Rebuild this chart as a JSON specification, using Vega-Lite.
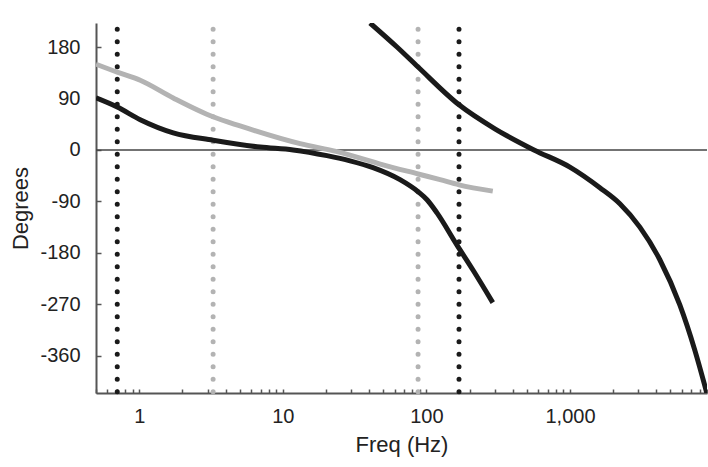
{
  "$schema": "https://vega.github.io/schema/vega-lite/v6.json",
  "autosize": {"type": "none"},
  "width": 611,
  "height": 370,
  "padding": {"left": 96, "top": 23, "right": 1, "bottom": 74},
  "background": "white",
  "config": {
    "view": {"stroke": null},
    "font": "Liberation Sans",
    "axis": {"grid": false, "labelFont": "Liberation Sans", "titleFont": "Liberation Sans", "labelFontSize": 20, "titleFontSize": 22, "labelColor": "#222", "titleColor": "#222", "titleFontWeight": "normal", "domainColor": "#555", "domainWidth": 2, "tickColor": "#555", "tickWidth": 1.5}
  },
  "datasets": {
    "curves": [
      {"series": "gray", "freq": 0.5, "deg": 150},
      {"series": "gray", "freq": 0.703, "deg": 136},
      {"series": "gray", "freq": 1.016, "deg": 122},
      {"series": "gray", "freq": 1.725, "deg": 91},
      {"series": "gray", "freq": 3.27, "deg": 58},
      {"series": "gray", "freq": 5.04, "deg": 42},
      {"series": "gray", "freq": 13.2, "deg": 11},
      {"series": "gray", "freq": 23.9, "deg": -3},
      {"series": "gray", "freq": 49.9, "deg": -26},
      {"series": "gray", "freq": 87.5, "deg": -42},
      {"series": "gray", "freq": 124.5, "deg": -52},
      {"series": "gray", "freq": 168.7, "deg": -61},
      {"series": "gray", "freq": 290, "deg": -72},
      {"series": "black1", "freq": 0.5, "deg": 91},
      {"series": "black1", "freq": 0.703, "deg": 75},
      {"series": "black1", "freq": 1.016, "deg": 53},
      {"series": "black1", "freq": 1.725, "deg": 30},
      {"series": "black1", "freq": 3.27, "deg": 17},
      {"series": "black1", "freq": 6.95, "deg": 5},
      {"series": "black1", "freq": 11.8, "deg": 0},
      {"series": "black1", "freq": 20.3, "deg": -10},
      {"series": "black1", "freq": 29.4, "deg": -19},
      {"series": "black1", "freq": 42.5, "deg": -31},
      {"series": "black1", "freq": 65.5, "deg": -52},
      {"series": "black1", "freq": 87.5, "deg": -73},
      {"series": "black1", "freq": 101, "deg": -87},
      {"series": "black1", "freq": 118.5, "deg": -110},
      {"series": "black1", "freq": 163, "deg": -166},
      {"series": "black1", "freq": 211, "deg": -210},
      {"series": "black1", "freq": 290, "deg": -267},
      {"series": "black2", "freq": 40.5, "deg": 222},
      {"series": "black2", "freq": 62.4, "deg": 180},
      {"series": "black2", "freq": 87.5, "deg": 145},
      {"series": "black2", "freq": 168.7, "deg": 79},
      {"series": "black2", "freq": 300, "deg": 37},
      {"series": "black2", "freq": 561, "deg": 0},
      {"series": "black2", "freq": 998, "deg": -30},
      {"series": "black2", "freq": 1615, "deg": -66},
      {"series": "black2", "freq": 2225, "deg": -94},
      {"series": "black2", "freq": 3066, "deg": -135},
      {"series": "black2", "freq": 4225, "deg": -192},
      {"series": "black2", "freq": 5821, "deg": -271},
      {"series": "black2", "freq": 7400, "deg": -350},
      {"series": "black2", "freq": 8970, "deg": -425}
    ],
    "vlines": [
      {"kind": "black", "freq": 0.703},
      {"kind": "gray", "freq": 3.27},
      {"kind": "gray", "freq": 87.5},
      {"kind": "black", "freq": 168.7}
    ],
    "zero": [{"deg": 0}]
  },
  "layer": [
    {
      "data": {"name": "zero"},
      "mark": {"type": "rule", "color": "#444", "strokeWidth": 1.5},
      "encoding": {
        "y": {"field": "deg", "type": "quantitative", "scale": {"domain": [-425, 222], "nice": false, "zero": false},
          "axis": {"title": "Degrees", "values": [180, 90, 0, -90, -180, -270, -360], "labelExpr": "datum.value + ''", "tickSize": -5, "labelPadding": 21, "titlePadding": 7}}
      }
    },
    {
      "data": {"name": "vlines"},
      "mark": {"type": "rule", "strokeWidth": 5, "strokeDash": [0, 12.5], "strokeCap": "round"},
      "encoding": {
        "x": {"field": "freq", "type": "quantitative"},
        "y": {"datum": 211},
        "y2": {"datum": -425},
        "color": {"field": "kind", "type": "nominal", "scale": {"domain": ["black", "gray"], "range": ["#1a1a1a", "#b3b3b3"]}, "legend": null}
      }
    },
    {
      "data": {"name": "curves"},
      "mark": {"type": "line", "strokeWidth": 5, "interpolate": "monotone", "clip": true},
      "encoding": {
        "x": {"field": "freq", "type": "quantitative",
          "scale": {"type": "log", "domain": [0.5, 9000], "nice": false},
          "axis": {"title": "Freq (Hz)", "format": ",", "values": [0.5,0.6,0.7,0.8,0.9,1,2,3,4,5,6,7,8,9,10,20,30,40,50,60,70,80,90,100,200,300,400,500,600,700,800,900,1000,2000,3000,4000,5000,6000,7000,8000,9000],
            "labelExpr": "indexof([1,10,100,1000], datum.value) >= 0 ? datum.label : ''", "labelOverlap": false, "labelBound": false, "labelFlush": false,
            "tickSize": -4, "labelPadding": 17, "titlePadding": 8}},
        "y": {"field": "deg", "type": "quantitative"},
        "detail": {"field": "series"},
        "color": {"field": "series", "type": "nominal", "scale": {"domain": ["black1", "black2", "gray"], "range": ["#1a1a1a", "#1a1a1a", "#b3b3b3"]}, "legend": null}
      }
    }
  ],
  "resolve": {"scale": {"color": "independent"}}
}
